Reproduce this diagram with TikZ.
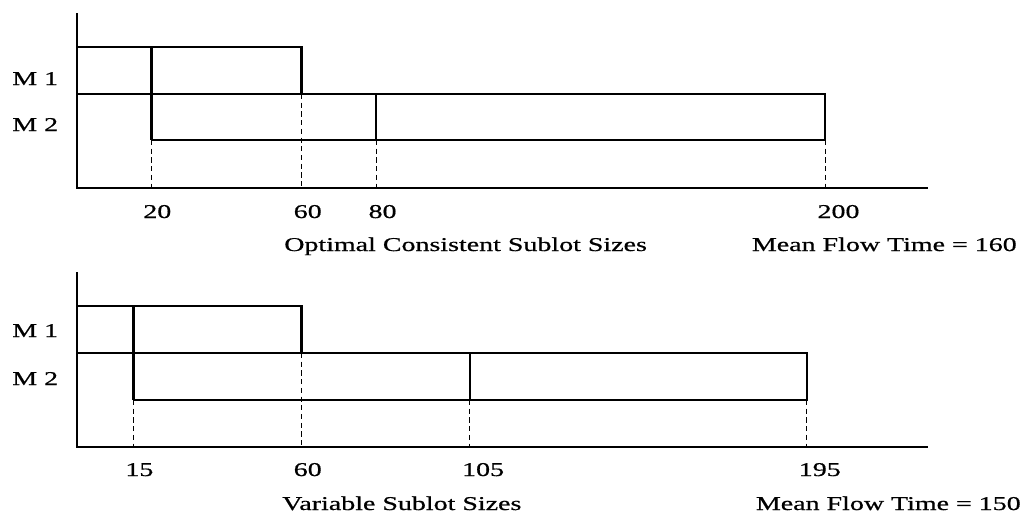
\documentclass[tikz,border=0pt]{standalone}
\usepackage{fontspec}
\newfontfamily\chartfont[FakeStretch=1.43, FakeBold=0.7]{Liberation Serif}
\usetikzlibrary{positioning}

\begin{document}
\begin{tikzpicture}[x=0.025cm, y=-0.025cm,
    bar/.style={line width=1.5pt},
    split/.style={line width=2.1pt},
    guide/.style={line width=0.9pt, dash pattern=on 3.6pt off 2.6pt},
    txt/.style={font=\chartfont\fontsize{13.9}{16}\selectfont, inner sep=0pt}]
  \useasboundingbox (0,0) rectangle (1024,514);
  % upper chart
  \node[txt, anchor=base west] (m1a) at (12,85) {M 1};
  \node[txt, anchor=base west] (m2a) at (12,131) {M 2};
  \node[txt, anchor=base west] (capa) at (284,251) {Optimal Consistent Sublot Sizes};
  \node[txt, anchor=base east] (mfta) at (1017,251) {Mean Flow Time = 160};
  \begin{scope}[x=0.0935cm, xshift=1.925cm]
    \draw[bar] (0,13) -- (0,188) -- (227.5,188);
    \draw[bar] (0,47) rectangle (60,94);
    \draw[bar] (0,94) -- (200,94) -- (200,140) -- (20,140);
    \draw[split] (20,47) -- (20,140);
    \draw[bar] (80,94) -- (80,140);
    \draw[guide] (20,140) -- (20,188);
    \draw[guide] (60,94) -- (60,188);
    \draw[guide] (80,140) -- (80,188);
    \draw[guide] (200,140) -- (200,188);
    \node[txt, anchor=base west, xshift=-0.22cm] (ta20) at (20,218) {20};
    \node[txt, anchor=base west, xshift=-0.2cm] (ta60) at (60,218) {60};
    \node[txt, anchor=base west, xshift=-0.2cm] (ta80) at (80,218) {80};
    \node[txt, anchor=base west, xshift=-0.2cm] (ta200) at (200,218) {200};
  \end{scope}
  % lower chart
  \node[txt, anchor=base west] (m1b) at (12,337) {M 1};
  \node[txt, anchor=base west] (m2b) at (12,385) {M 2};
  \node[txt, anchor=base west] (capb) at (282,510) {Variable Sublot Sizes};
  \node[txt, anchor=base east] (mftb) at (1021,510) {Mean Flow Time = 150};
  \begin{scope}[x=0.0935cm, xshift=1.925cm]
    \draw[bar] (0,272) -- (0,447) -- (227.5,447);
    \draw[bar] (0,306) rectangle (60,353);
    \draw[bar] (0,353) -- (195,353) -- (195,400) -- (15,400);
    \draw[split] (15,306) -- (15,400);
    \draw[bar] (105,353) -- (105,400);
    \draw[guide] (15,400) -- (15,447);
    \draw[guide] (60,353) -- (60,447);
    \draw[guide] (105,400) -- (105,447);
    \draw[guide] (195,400) -- (195,447);
    \node[txt, anchor=base west, xshift=-0.2cm] (tb15) at (15,476) {15};
    \node[txt, anchor=base west, xshift=-0.2cm] (tb60) at (60,476) {60};
    \node[txt, anchor=base west, xshift=-0.2cm] (tb105) at (105,476) {105};
    \node[txt, anchor=base west, xshift=-0.2cm] (tb195) at (195,476) {195};
  \end{scope}
\end{tikzpicture}
\end{document}
